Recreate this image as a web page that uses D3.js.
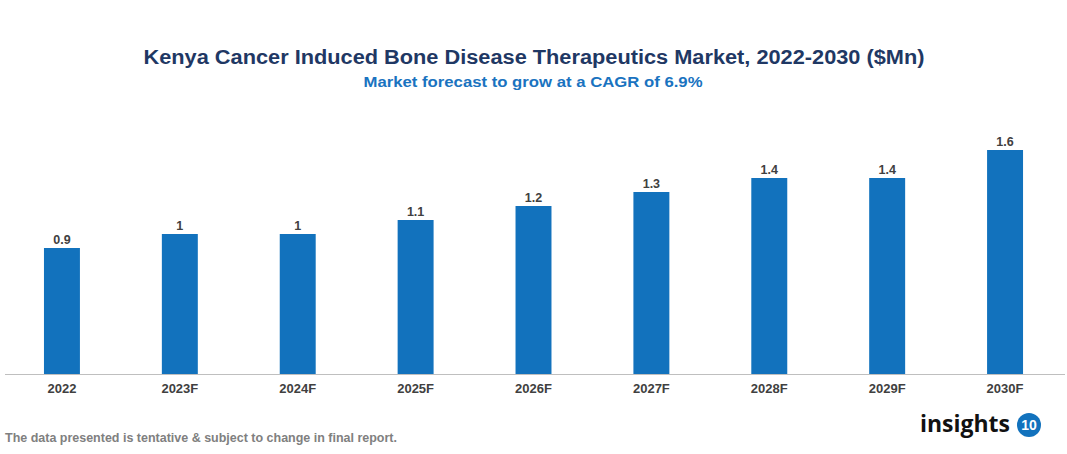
<!DOCTYPE html>
<html>
<head>
<meta charset="utf-8">
<script src="https://cdn.jsdelivr.net/npm/d3@7"></script>
<style>
html,body{margin:0;padding:0;background:#fff;}
svg{display:block;font-family:"Liberation Sans",Arial,sans-serif;}
</style>
</head>
<body>
<svg id="chart" width="1067" height="454"></svg>
<script>
const categories = ["2022","2023F","2024F","2025F","2026F","2027F","2028F","2029F","2030F"];
const values = [0.9, 1, 1, 1.1, 1.2, 1.3, 1.4, 1.4, 1.6];
const titleText = "Kenya Cancer Induced Bone Disease Therapeutics Market, 2022-2030 ($Mn)";
const subtitleText = "Market forecast to grow at a CAGR of 6.9%";
const footnoteText = "The data presented is tentative & subject to change in final report.";

const svg = d3.select("#chart");
const W = 1067, baseY = 374;

const x = d3.scaleBand().domain(categories).range([3, 1064]).paddingInner(0.695).paddingOuter(0.3475);
const y = d3.scaleLinear().domain([0, 1.6]).range([baseY, baseY - 224]);

svg.append("text").attr("x", 534).attr("y", 64).attr("text-anchor", "middle")
  .attr("font-size", 20).attr("font-weight", "bold").attr("fill", "#1f3864")
  .attr("textLength", 781).attr("lengthAdjust", "spacingAndGlyphs").text(titleText);
svg.append("text").attr("x", 533).attr("y", 87).attr("text-anchor", "middle")
  .attr("font-size", 15.5).attr("font-weight", "bold").attr("fill", "#1a73c0")
  .attr("textLength", 339).attr("lengthAdjust", "spacingAndGlyphs").text(subtitleText);

svg.append("g").selectAll("rect").data(values).join("rect")
  .attr("x", (d, i) => x(categories[i]))
  .attr("width", x.bandwidth())
  .attr("y", d => y(d))
  .attr("height", d => baseY - y(d))
  .attr("fill", "#1272bd");

svg.append("g").selectAll("text").data(values).join("text")
  .attr("x", (d, i) => x(categories[i]) + x.bandwidth() / 2)
  .attr("y", d => y(d) - 4)
  .attr("text-anchor", "middle").attr("font-size", 12.5).attr("font-weight", "bold")
  .attr("fill", "#404040").text(d => d);

const axis = svg.append("g").attr("transform", `translate(0,${baseY})`)
  .call(d3.axisBottom(x).tickSize(0).tickPadding(10));
axis.select(".domain").attr("stroke", "#bfbfbf").attr("stroke-width", 1.2).attr("d", "M5,0.5H1065");
axis.selectAll("text").attr("font-size", 13).attr("font-weight", "bold")
  .attr("fill", "#404040").attr("font-family", "Liberation Sans, Arial, sans-serif");

svg.append("text").attr("x", 5).attr("y", 442).attr("font-size", 12.5).attr("font-weight", "bold")
  .attr("fill", "#808080").attr("textLength", 392).attr("lengthAdjust", "spacingAndGlyphs").text(footnoteText);

svg.append("text").attr("x", 920).attr("y", 432).attr("font-size", 23).attr("font-weight", "bold")
  .attr("fill", "#111").attr("font-family", "Open Sans, Liberation Sans, sans-serif")
  .attr("textLength", 90).attr("lengthAdjust", "spacingAndGlyphs").text("insights");
svg.append("circle").attr("cx", 1029).attr("cy", 425).attr("r", 12).attr("fill", "#1272bd");
svg.append("text").attr("x", 1029).attr("y", 430).attr("text-anchor", "middle").attr("font-size", 14)
  .attr("font-weight", "bold").attr("fill", "#fff").text("10");
</script>
</body>
</html>
